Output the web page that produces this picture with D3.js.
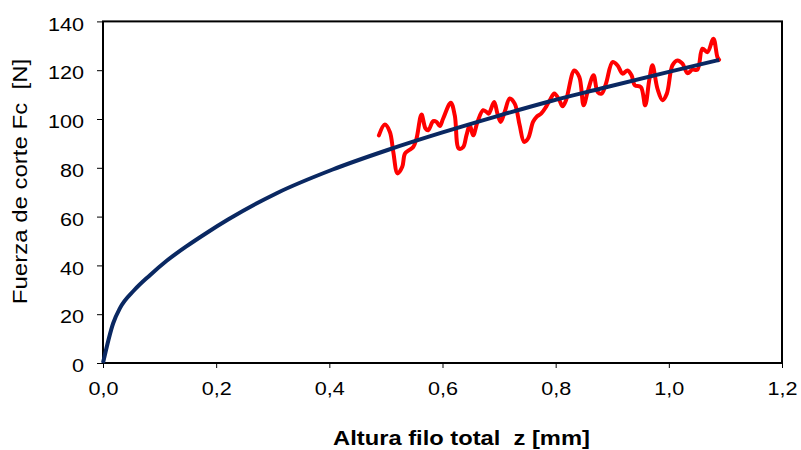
<!DOCTYPE html>
<html>
<head>
<meta charset="utf-8">
<script src="https://cdn.jsdelivr.net/npm/d3@7"></script>
<style>
  html, body { margin: 0; padding: 0; background: #ffffff; }
  svg { display: block; }
  text { font-family: "Liberation Sans", Arial, sans-serif; white-space: pre; }
</style>
</head>
<body>
<div id="chart"></div>
<script>
// ---- Data ----
// Measured cutting force (red, oscillating)
const zMeasured = [0.4876, 0.4982, 0.5070, 0.5130, 0.5206, 0.5289, 0.5335, 0.5405, 0.5483, 0.5541,
  0.5629, 0.5700, 0.5748, 0.5836, 0.5894, 0.5952, 0.6012, 0.6146, 0.6217, 0.6288,
  0.6365, 0.6423, 0.6482, 0.6542, 0.6618, 0.6718, 0.6776, 0.6817, 0.6912, 0.6971,
  0.7029, 0.7099, 0.7188, 0.7276, 0.7364, 0.7442, 0.7512, 0.7600, 0.7659, 0.7747,
  0.7835, 0.7906, 0.7976, 0.8065, 0.8123, 0.8183, 0.8329, 0.8418, 0.8494, 0.8564,
  0.8670, 0.8741, 0.8811, 0.8889, 0.9005, 0.9093, 0.9182, 0.9270, 0.9341, 0.9400,
  0.9506, 0.9582, 0.9653, 0.9711, 0.9799, 0.9888, 0.9965, 1.0064, 1.0152, 1.0241,
  1.0329, 1.0417, 1.0505, 1.0594, 1.0682, 1.0788, 1.0858, 1.0888];
const fMeasured = [93.3, 97.7, 94.7, 86.5, 77.7, 80.4, 85.8, 87.2, 88.5, 92.0,
  101.8, 96.1, 95.4, 99.1, 98.8, 97.1, 100.2, 106.7, 101.5, 87.9,
  88.5, 93.3, 97.4, 93.3, 98.8, 103.6, 102.9, 102.2, 107.0, 102.2,
  98.8, 102.9, 108.4, 106.3, 97.4, 90.6, 92.0, 98.8, 100.8, 102.3,
  105.2, 108.1, 110.4, 107.7, 105.2, 107.7, 119.9, 117.2, 105.6, 111.1,
  117.9, 111.1, 110.4, 114.5, 123.3, 122.0, 118.6, 119.9, 117.9, 113.8,
  113.1, 105.6, 115.8, 122.0, 112.4, 107.7, 110.4, 122.0, 124.0, 122.7,
  118.8, 120.2, 120.2, 128.8, 127.4, 132.9, 125.4, 124.3];

// Fitted curve (navy)
const zFit = [0, 0.018, 0.030, 0.055, 0.083, 0.112, 0.148, 0.183, 0.221, 0.307, 0.406, 0.503,
  0.600, 0.700, 0.792, 0.880, 1.000, 1.089];
const fFit = [0, 16.3, 22.5, 29.8, 36.0, 41.8, 47.9, 53.3, 58.8, 69.6, 79.3, 87.3,
  94.5, 101.4, 107.4, 112.5, 119.3, 124.2];

const xTicks = [0, 0.2, 0.4, 0.6, 0.8, 1.0, 1.2];
const yTicks = [0, 20, 40, 60, 80, 100, 120, 140];
const xTitle = "Altura filo total  z [mm]";
const yTitle = "Fuerza de corte Fc  [N]";

// ---- Layout ----
const W = 801, H = 450;
const plot = { left: 103, right: 782, top: 21.4, bottom: 363 };

const svg = d3.select("#chart").append("svg")
  .attr("width", W).attr("height", H);

const x = d3.scaleLinear().domain([0, 1.2]).range([plot.left, plot.right]);
const y = d3.scaleLinear().domain([0, 140]).range([plot.bottom, plot.top]);

const fmt = d3.format(".1f");
const commaFmt = d => fmt(d).replace(".", ",");

// Axes
const xAxis = svg.append("g")
  .attr("transform", `translate(0,${plot.bottom})`)
  .call(d3.axisBottom(x).tickValues(xTicks).tickFormat(commaFmt).tickSize(5).tickSizeOuter(0));
const yAxis = svg.append("g")
  .attr("transform", `translate(${plot.left},0)`)
  .call(d3.axisLeft(y).tickValues(yTicks).tickFormat(d3.format("d")).tickSize(6).tickSizeOuter(0));

[xAxis, yAxis].forEach(g => {
  g.select(".domain").remove();
  g.selectAll(".tick line").attr("stroke", "#000").attr("stroke-width", 1);
  g.selectAll(".tick text").attr("fill", "#000").style("font-size", "18px");
});
xAxis.selectAll(".tick text")
  .attr("y", 0).attr("dy", null)
  .attr("transform", "translate(0,32) scale(1.2,1)");
yAxis.selectAll(".tick text")
  .attr("x", 0).attr("dy", "0.4em")
  .attr("transform", "translate(-19,1.5) scale(1.2,1)");

// Plot frame
svg.append("rect")
  .attr("x", plot.left).attr("y", plot.top)
  .attr("width", plot.right - plot.left).attr("height", plot.bottom - plot.top)
  .attr("fill", "none").attr("stroke", "#000").attr("stroke-width", 2);

// Series
const measured = zMeasured.map((z, i) => [z, fMeasured[i]]);
const fitted = zFit.map((z, i) => [z, fFit[i]]);

svg.append("path")
  .datum(measured)
  .attr("fill", "none").attr("stroke", "#ff0000").attr("stroke-width", 4)
  .attr("stroke-linejoin", "round").attr("stroke-linecap", "round")
  .attr("d", d3.line().x(d => x(d[0])).y(d => y(d[1])).curve(d3.curveCatmullRom.alpha(0.5)));

svg.append("path")
  .datum(fitted)
  .attr("fill", "none").attr("stroke", "#0a2862").attr("stroke-width", 4)
  .attr("stroke-linejoin", "round")
  .attr("d", d3.line().x(d => x(d[0])).y(d => y(d[1])).curve(d3.curveMonotoneX));

// Titles
svg.append("text")
  .attr("transform", "translate(461.5,444.5) scale(1.13,1)")
  .attr("text-anchor", "middle")
  .style("font-size", "21px").style("font-weight", "bold")
  .text(xTitle);

svg.append("text")
  .attr("transform", "translate(27,181.5) rotate(-90) scale(1.2,1)")
  .attr("text-anchor", "middle")
  .style("font-size", "20px")
  .text(yTitle);
</script>
</body>
</html>
